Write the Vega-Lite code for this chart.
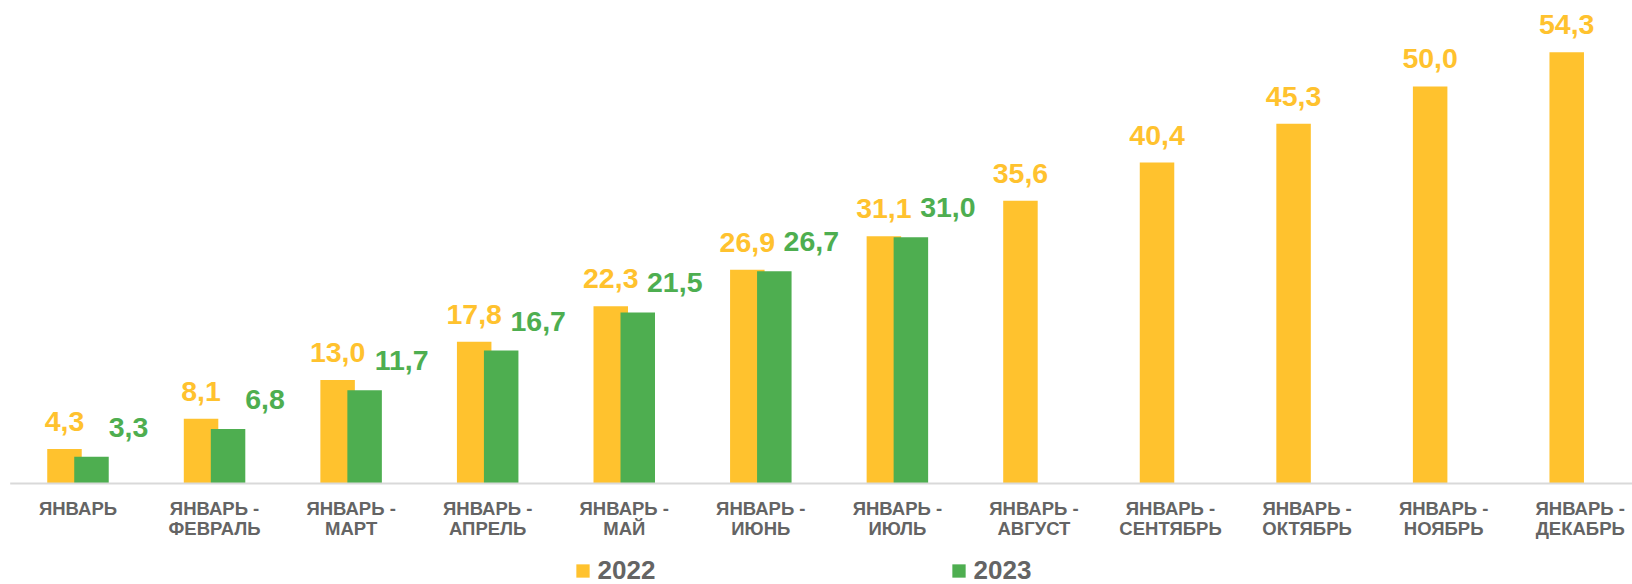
{
  "$schema": "https://vega.github.io/schema/vega-lite/v6.json",
  "autosize": {"type": "none"},
  "width": 1632,
  "height": 483,
  "padding": {"left": 0, "right": 0, "top": 0, "bottom": 101},
  "background": "white",
  "config": {
    "font": "Liberation Sans",
    "view": {"stroke": null},
    "locale": {"number": {"decimal": ",", "thousands": " ", "grouping": [3], "currency": ["", ""]}}
  },
  "data": {
    "values": [
      {"cat": "ЯНВАРЬ", "year": "2022", "value": 4.3},
      {"cat": "ЯНВАРЬ -\nФЕВРАЛЬ", "year": "2022", "value": 8.1},
      {"cat": "ЯНВАРЬ -\nМАРТ", "year": "2022", "value": 13.0},
      {"cat": "ЯНВАРЬ -\nАПРЕЛЬ", "year": "2022", "value": 17.8},
      {"cat": "ЯНВАРЬ -\nМАЙ", "year": "2022", "value": 22.3},
      {"cat": "ЯНВАРЬ -\nИЮНЬ", "year": "2022", "value": 26.9},
      {"cat": "ЯНВАРЬ -\nИЮЛЬ", "year": "2022", "value": 31.1},
      {"cat": "ЯНВАРЬ -\nАВГУСТ", "year": "2022", "value": 35.6},
      {"cat": "ЯНВАРЬ -\nСЕНТЯБРЬ", "year": "2022", "value": 40.4},
      {"cat": "ЯНВАРЬ -\nОКТЯБРЬ", "year": "2022", "value": 45.3},
      {"cat": "ЯНВАРЬ -\nНОЯБРЬ", "year": "2022", "value": 50.0},
      {"cat": "ЯНВАРЬ -\nДЕКАБРЬ", "year": "2022", "value": 54.3},
      {"cat": "ЯНВАРЬ", "year": "2023", "value": 3.3},
      {"cat": "ЯНВАРЬ -\nФЕВРАЛЬ", "year": "2023", "value": 6.8},
      {"cat": "ЯНВАРЬ -\nМАРТ", "year": "2023", "value": 11.7},
      {"cat": "ЯНВАРЬ -\nАПРЕЛЬ", "year": "2023", "value": 16.7},
      {"cat": "ЯНВАРЬ -\nМАЙ", "year": "2023", "value": 21.5},
      {"cat": "ЯНВАРЬ -\nИЮНЬ", "year": "2023", "value": 26.7},
      {"cat": "ЯНВАРЬ -\nИЮЛЬ", "year": "2023", "value": 31.0}
    ]
  },
  "encoding": {
    "x": {
      "field": "cat",
      "type": "nominal",
      "sort": null,
      "scale": {"range": [9.7, 1648.5], "paddingInner": 0, "paddingOuter": 0},
      "axis": {
        "title": null,
        "labelAngle": 0,
        "labelExpr": "split(datum.value, '\\n')",
        "labelFont": "Liberation Sans",
        "labelFontWeight": "bold",
        "labelFontSize": 18.5,
        "labelColor": "#646464",
        "labelLineHeight": 20,
        "labelBaseline": "top",
        "labelPadding": 16,
        "ticks": false,
        "domainColor": "#d9d9d9",
        "domainWidth": 2,
        "labelLimit": 300,
        "zindex": 1
      }
    },
    "y": {
      "field": "value",
      "type": "quantitative",
      "scale": {"domain": [0, 60.9], "nice": false, "zero": true},
      "axis": null
    }
  },
  "layer": [
    {
      "transform": [{"filter": "datum.year == '2022'"}],
      "mark": {"type": "bar", "width": 34.5, "xOffset": -13.5},
      "encoding": {
        "color": {
          "field": "year",
          "type": "nominal",
          "scale": {"domain": ["2022", "2023"], "range": ["#FFC22E", "#4EAE50"]},
          "legend": {
            "title": null,
            "orient": "none",
            "legendX": 570,
            "legendY": 558,
            "direction": "horizontal",
            "symbolType": "square",
            "symbolSize": 177,
            "symbolStrokeWidth": 0,
            "labelFont": "Liberation Sans",
            "labelFontSize": 26,
            "labelFontWeight": "bold",
            "labelColor": "#646464",
            "labelOffset": 1.5,
            "columnPadding": 290,
            "padding": 0
          }
        }
      }
    },
    {
      "transform": [{"filter": "datum.year == '2023'"}],
      "mark": {"type": "bar", "width": 34.5, "xOffset": 13.5},
      "encoding": {
        "color": {"field": "year", "type": "nominal"}
      }
    },
    {
      "transform": [{"filter": "datum.year == '2022'"}],
      "mark": {"type": "text", "xOffset": -13.5, "dy": -18, "align": "center", "baseline": "alphabetic", "fontSize": 28.5, "fontWeight": "bold", "font": "Liberation Sans", "color": "#FFC22E"},
      "encoding": {
        "text": {"field": "value", "type": "quantitative", "format": ".1f"}
      }
    },
    {
      "transform": [{"filter": "datum.year == '2023'"}],
      "mark": {"type": "text", "xOffset": 50.5, "dy": -20, "align": "center", "baseline": "alphabetic", "fontSize": 28.5, "fontWeight": "bold", "font": "Liberation Sans", "color": "#4EAE50"},
      "encoding": {
        "text": {"field": "value", "type": "quantitative", "format": ".1f"}
      }
    }
  ]
}
